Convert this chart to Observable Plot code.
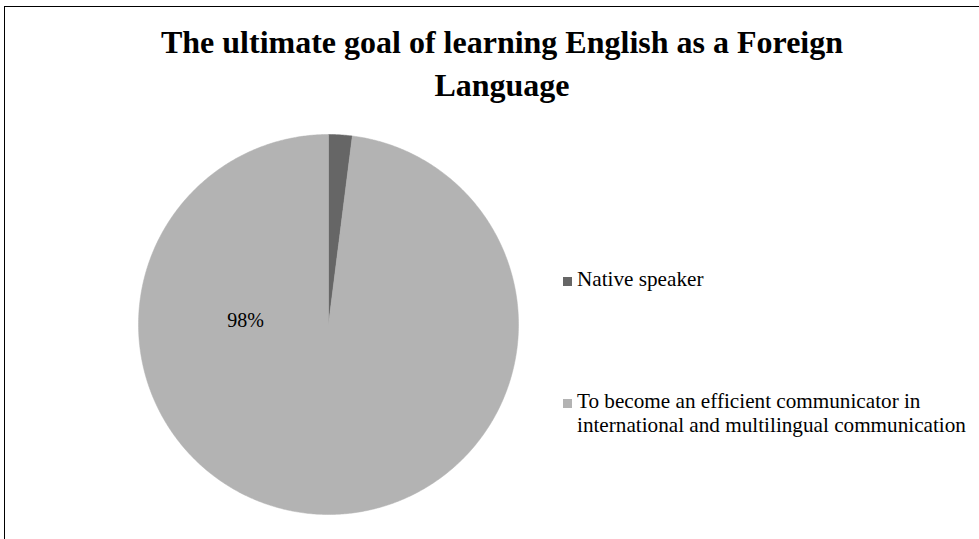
<!DOCTYPE html>
<html>
<head>
<meta charset="utf-8">
<script src="https://cdn.jsdelivr.net/npm/d3@7"></script>
<script src="https://cdn.jsdelivr.net/npm/@observablehq/plot@0.6"></script>
<style>
  html, body { margin: 0; padding: 0; background: #fff; }
  body { width: 979px; height: 539px; overflow: hidden; position: relative; font-family: "Liberation Serif", "Times New Roman", serif; }
  #frame { position: absolute; left: 4px; top: 6px; width: 1100px; height: 700px; border: 1.5px solid #000; box-sizing: border-box; }
  #chart { position: absolute; left: 0; top: 0; }
  #title { position: absolute; left: 5px; width: 994px; top: 21px; text-align: center; font-weight: bold; font-size: 32px; line-height: 43px; color: #000; }
  .leg { position: absolute; left: 577px; font-size: 21.2px; line-height: 24px; color: #000; white-space: nowrap; }
  .sw { position: absolute; left: 563px; width: 9px; height: 9px; }
</style>
</head>
<body>
<div id="frame"></div>
<div id="chart"></div>
<div id="title">The ultimate goal of learning English as a Foreign<br>Language</div>
<div id="legend"></div>
<script>
const categories = ["Native speaker", "To become an efficient communicator in international and multilingual communication"];
const legendLines = [["Native speaker"], ["To become an efficient communicator in", "international and multilingual communication"]];
const values = [2, 98];
const colors = ["#666666", "#b3b3b3"];
const labels = ["", "98%"];

const total = d3.sum(values);
const polys = [];
let acc = 0;
values.forEach((v, i) => {
  const a0 = acc / total * 2 * Math.PI;
  acc += v;
  const a1 = acc / total * 2 * Math.PI;
  const n = Math.max(2, Math.ceil((a1 - a0) / (Math.PI / 360)));
  polys.push({cat: categories[i], x: 0, y: 0});
  for (let k = 0; k <= n; k++) {
    const a = a0 + (a1 - a0) * k / n;
    polys.push({cat: categories[i], x: Math.sin(a), y: Math.cos(a)});
  }
  polys.push({cat: categories[i], x: 0, y: 0});
});

const labelData = [{text: labels[1], x: -0.437, y: 0.023}];

const plot = Plot.plot({
  width: 979,
  height: 539,
  margin: 0,
  x: {domain: [-1, 1], range: [138, 518], axis: null},
  y: {domain: [-1, 1], range: [514, 134], axis: null},
  color: {domain: categories, range: colors},
  style: {background: "transparent", overflow: "visible"},
  marks: [
    Plot.line(polys, {x: "x", y: "y", z: "cat", fill: "cat", stroke: "cat", strokeWidth: 0.5, curve: "linear"}),
    Plot.text(labelData, {x: "x", y: "y", text: "text", fontSize: 20, fontFamily: "Liberation Serif", fill: "#000"})
  ]
});
document.getElementById("chart").appendChild(plot);

const leg = document.getElementById("legend");
const legTops = [267, 389];
categories.forEach((c, i) => {
  const sw = document.createElement("div");
  sw.className = "sw";
  sw.style.top = (legTops[i] + 10) + "px";
  sw.style.background = colors[i];
  leg.appendChild(sw);
  const t = document.createElement("div");
  t.className = "leg";
  t.style.top = legTops[i] + "px";
  t.innerHTML = legendLines[i].join("<br>");
  leg.appendChild(t);
});
</script>
</body>
</html>
